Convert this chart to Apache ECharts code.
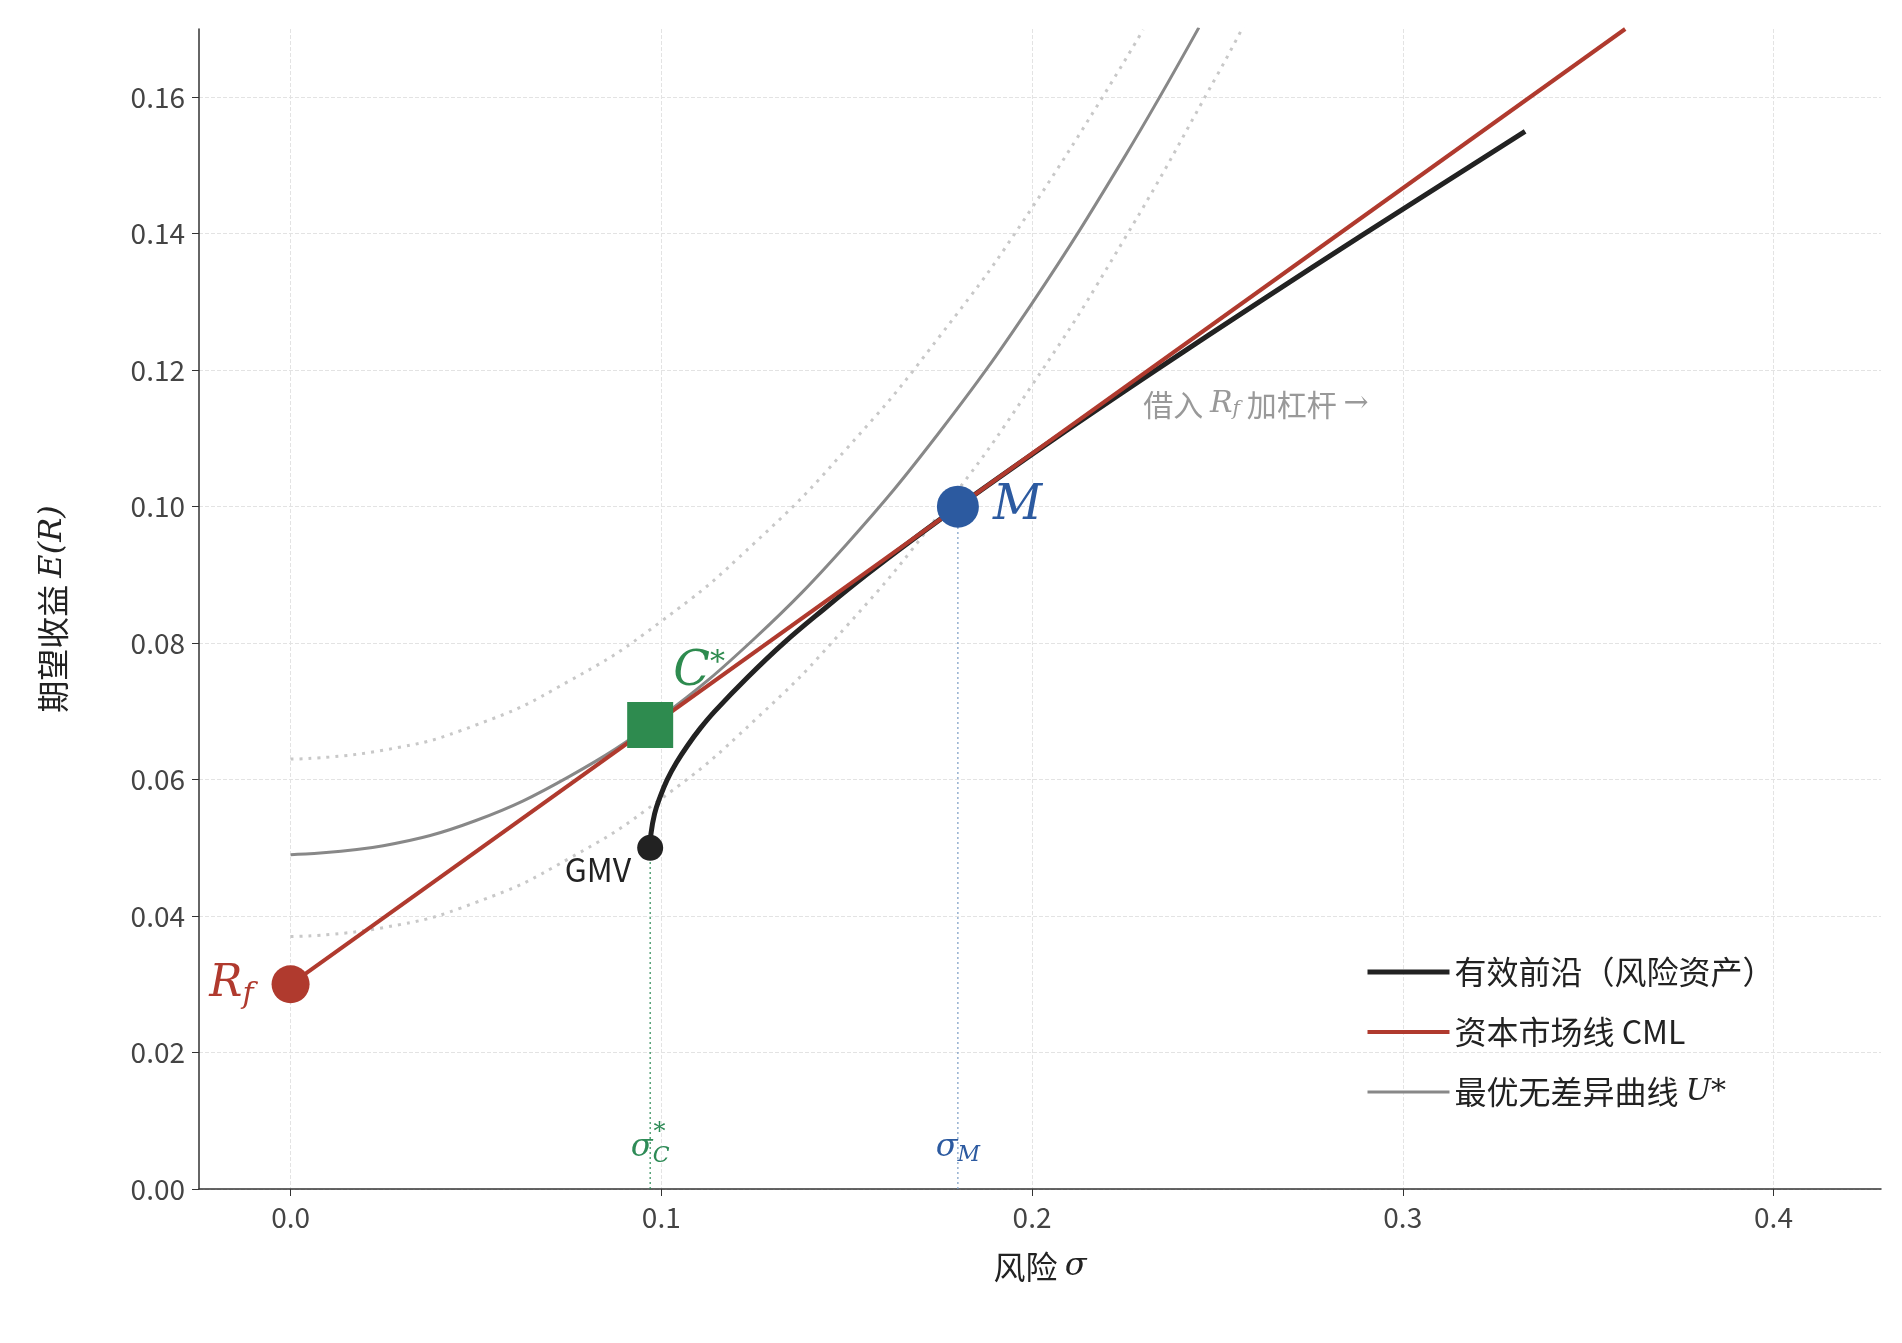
<!DOCTYPE html><html><head><meta charset="utf-8"><script src="https://cdn.jsdelivr.net/npm/echarts@6/dist/echarts.min.js"></script>
<style>html,body{margin:0;background:#fff}#c{width:1902px;height:1343px}</style></head><body><div id="c"></div><script>
const frontier=[[0.097,0.05],[0.0972,0.052],[0.0982,0.055],[0.0997,0.0575],[0.1016,0.06],[0.1041,0.0625],[0.1071,0.065],[0.1105,0.0675],[0.1144,0.07],[0.1233,0.075],[0.1330,0.08],[0.1439,0.085],[0.1553,0.09],[0.1674,0.095],[0.18,0.10],[0.2062,0.11],[0.2334,0.12],[0.2613,0.13],[0.2897,0.14],[0.333,0.155]];
const cml=[[0,0.03],[0.36,0.17]];
const uStar=[[0,0.049],[0.025,0.0503],[0.05,0.054],[0.075,0.0604],[0.1,0.0692],[0.125,0.0806],[0.15,0.0945],[0.175,0.1109],[0.2,0.1298],[0.225,0.1513],[0.245,0.1702]];
const uHigh=[[0,0.063],[0.025,0.0643],[0.05,0.068],[0.075,0.0744],[0.1,0.0832],[0.125,0.0946],[0.15,0.1085],[0.175,0.1249],[0.2,0.1438],[0.23,0.1699]];
const uLow=[[0,0.037],[0.025,0.0383],[0.05,0.042],[0.075,0.0484],[0.1,0.0572],[0.125,0.0686],[0.15,0.0825],[0.175,0.0989],[0.2,0.1178],[0.225,0.1393],[0.25,0.1633],[0.257,0.1704]];
const rf=[0,0.03], M=[0.18,0.10], C=[0.097,0.068], GMV=[0.097,0.05];
const xTicks=[0,0.1,0.2,0.3,0.4], yTicks=[0,0.02,0.04,0.06,0.08,0.10,0.12,0.14,0.16];
const F='"Noto Sans CJK SC","Noto Sans",sans-serif', S='"DejaVu Serif","Liberation Serif",serif';
const ch=echarts.init(document.getElementById('c'));
const it={fontFamily:S,fontStyle:'italic'};
ch.setOption({animation:false,
grid:{left:199,right:21,top:29,bottom:154},
xAxis:{type:'value',min:-0.0247,max:0.429,interval:0.1,
 name:'风险 {i|σ}',nameLocation:'middle',nameGap:62,nameTextStyle:{fontFamily:F,fontSize:32,color:'#222',rich:{i:{...it,fontSize:32,color:'#222'}}},
 axisLine:{onZero:false,lineStyle:{color:'#333',width:1.5}},axisTick:{show:true,length:7,lineStyle:{color:'#333'},customValues:xTicks},
 axisLabel:{fontFamily:F,fontSize:28,color:'#444',margin:14,customValues:xTicks,formatter:v=>v.toFixed(1)},
 splitLine:{show:true,lineStyle:{color:'#e3e3e3',type:'dashed'},customValues:xTicks}},
yAxis:{type:'value',min:0,max:0.17,
 name:'期望收益 {i|E(R)}',nameLocation:'middle',nameGap:130,nameTextStyle:{fontFamily:F,fontSize:32,color:'#222',rich:{i:{...it,fontSize:32,color:'#222'}}},
 axisLine:{show:true,onZero:false,lineStyle:{color:'#333',width:1.5}},axisTick:{show:true,length:7,lineStyle:{color:'#333'},customValues:yTicks},
 axisLabel:{fontFamily:F,fontSize:28,color:'#444',margin:14,customValues:yTicks,formatter:v=>v.toFixed(2)},
 splitLine:{show:true,lineStyle:{color:'#e3e3e3',type:'dashed'},customValues:yTicks}},
legend:{left:1360,bottom:230,orient:'vertical',itemWidth:82,itemHeight:6,itemGap:28,textStyle:{fontFamily:F,fontSize:32,color:'#222',rich:{i:{...it,fontSize:30}}},
 data:[{name:'有效前沿（风险资产）',itemStyle:{opacity:0},lineStyle:{width:5}},{name:'资本市场线 CML',itemStyle:{opacity:0},lineStyle:{width:4}},{name:'最优无差异曲线 U*',itemStyle:{opacity:0},lineStyle:{width:3}}],formatter:n=>n==='最优无差异曲线 U*'?'最优无差异曲线 {i|U*}':n},
series:[
{name:'upper',type:'line',data:uHigh,smooth:true,symbol:'none',lineStyle:{color:'#c8c8c8',width:3,type:[3,6]},z:1},
{name:'lower',type:'line',data:uLow,smooth:true,symbol:'none',lineStyle:{color:'#c8c8c8',width:3,type:[3,6]},z:1},
{name:'vC',type:'line',data:[[GMV[0],0],GMV],symbol:'none',lineStyle:{color:'#2e8b57',width:1.2,type:[2,3]},z:1},
{name:'vM',type:'line',data:[[M[0],0],M],symbol:'none',lineStyle:{color:'#7a9cc4',width:1.2,type:[2,3]},z:1},
{name:'最优无差异曲线 U*',type:'line',data:uStar,smooth:0.4,symbol:'none',itemStyle:{color:'#888'},lineStyle:{color:'#888',width:3},z:2},
{name:'有效前沿（风险资产）',type:'line',data:frontier,smooth:0.4,symbol:'none',itemStyle:{color:'#222'},lineStyle:{color:'#222',width:5},z:3},
{name:'资本市场线 CML',type:'line',data:cml,symbol:'none',itemStyle:{color:'#b03a2e'},lineStyle:{color:'#b03a2e',width:4},z:4},
{type:'scatter',z:6,itemStyle:{opacity:1},data:[
 {value:rf,symbolSize:38,itemStyle:{color:'#b03a2e',opacity:1},label:{show:true,position:'left',distance:18,formatter:'{a|R}{b|f}',rich:{a:{...it,fontSize:44,color:'#b03a2e'},b:{...it,fontSize:30,color:'#b03a2e',padding:[22,0,0,0]}}}},
 {value:M,symbolSize:42,itemStyle:{color:'#2c5aa0',opacity:1},label:{show:true,position:'right',distance:14,formatter:'{a|M}',rich:{a:{...it,fontSize:48,color:'#2c5aa0'}}}},
 {value:C,symbol:'rect',symbolSize:46,itemStyle:{color:'#2e8b4f',opacity:1},label:{show:true,position:'right',distance:-10,offset:[10,-52],formatter:'{a|C}{b|*}',rich:{a:{...it,fontSize:48,color:'#2e8b4f'},b:{fontFamily:S,fontSize:30,color:'#2e8b4f',padding:[0,0,20,0]}}}},
 {value:GMV,symbolSize:26,itemStyle:{color:'#222',opacity:1},label:{show:true,position:'left',distance:6,offset:[0,22],formatter:'GMV',fontFamily:F,fontSize:32,color:'#222'}},
 {value:[GMV[0],0.006],symbolSize:0,label:{show:true,position:'inside',formatter:'{a|σ}{b|C}',rich:{a:{...it,fontSize:32,color:'#2e8b57'},b:{...it,fontSize:22,color:'#2e8b57',padding:[16,0,0,0]}}}},
 {value:[GMV[0]+0.0025,0.0082],symbolSize:0,label:{show:true,position:'inside',formatter:'*',fontFamily:S,fontSize:24,color:'#2e8b57'}},
 {value:[M[0],0.006],symbolSize:0,label:{show:true,position:'inside',formatter:'{a|σ}{b|M}',rich:{a:{...it,fontSize:32,color:'#2c5aa0'},b:{...it,fontSize:22,color:'#2c5aa0',padding:[14,0,0,0]}}}},
 {value:[0.23,0.115],symbolSize:0,label:{show:true,position:'right',distance:0,formatter:'借入 {a|R}{b|f} 加杠杆 {c|→}',fontFamily:F,fontSize:30,color:'#999',rich:{a:{...it,fontSize:30,color:'#999'},b:{...it,fontSize:20,color:'#999',padding:[12,0,0,0]},c:{fontFamily:S,fontSize:30,color:'#999'}}}}
]}
]});
</script></body></html>
